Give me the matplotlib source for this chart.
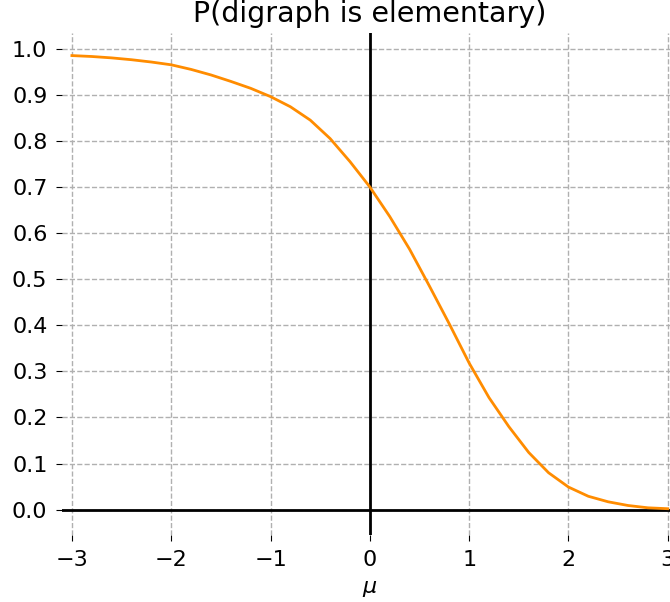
import matplotlib.pyplot as plt

# values
mu = [-3.0, -2.8, -2.6, -2.4, -2.2, -2.0, -1.8, -1.6, -1.4, -1.2, -1.0,
      -0.8, -0.6, -0.4, -0.2, 0.0, 0.2, 0.4, 0.6, 0.8, 1.0,
      1.2, 1.4, 1.6, 1.8, 2.0, 2.2, 2.4, 2.6, 2.8, 3.0]
prob = [0.985, 0.983, 0.980, 0.976, 0.971, 0.965, 0.955, 0.943, 0.929, 0.914, 0.896,
        0.874, 0.845, 0.805, 0.755, 0.700, 0.636, 0.565, 0.485, 0.403, 0.318,
        0.243, 0.180, 0.124, 0.080, 0.049, 0.029, 0.017, 0.009, 0.004, 0.002]

yticks = [0.0, 0.1, 0.2, 0.3, 0.4, 0.5, 0.6, 0.7, 0.8, 0.9, 1.0]
xticks = [-3, -2, -1, 0, 1, 2, 3]

fig = plt.figure(figsize=(6.7, 6.02), dpi=100)
ax = fig.add_axes([0.0925, 0.1113, 0.919, 0.8339])

ax.grid(True, linestyle='--', color='#b0b0b0', linewidth=1)
ax.axhline(0, color='black', linewidth=2)
ax.axvline(0, color='black', linewidth=2)
ax.plot(mu, prob, color='darkorange', linewidth=2)

for s in ax.spines.values():
    s.set_visible(False)

ax.set_xlim(-3.1, 3.1)
ax.set_ylim(-0.055, 1.034)
ax.set_xticks(xticks)
ax.set_yticks(yticks)
ax.tick_params(labelsize=16, length=4.5, pad=6)
ax.set_xlabel(r'$\mu$', fontsize=16, labelpad=7)
ax.set_title('P(digraph is elementary)', fontsize=20.5, pad=8)

fig.savefig('out.png', dpi=100)
